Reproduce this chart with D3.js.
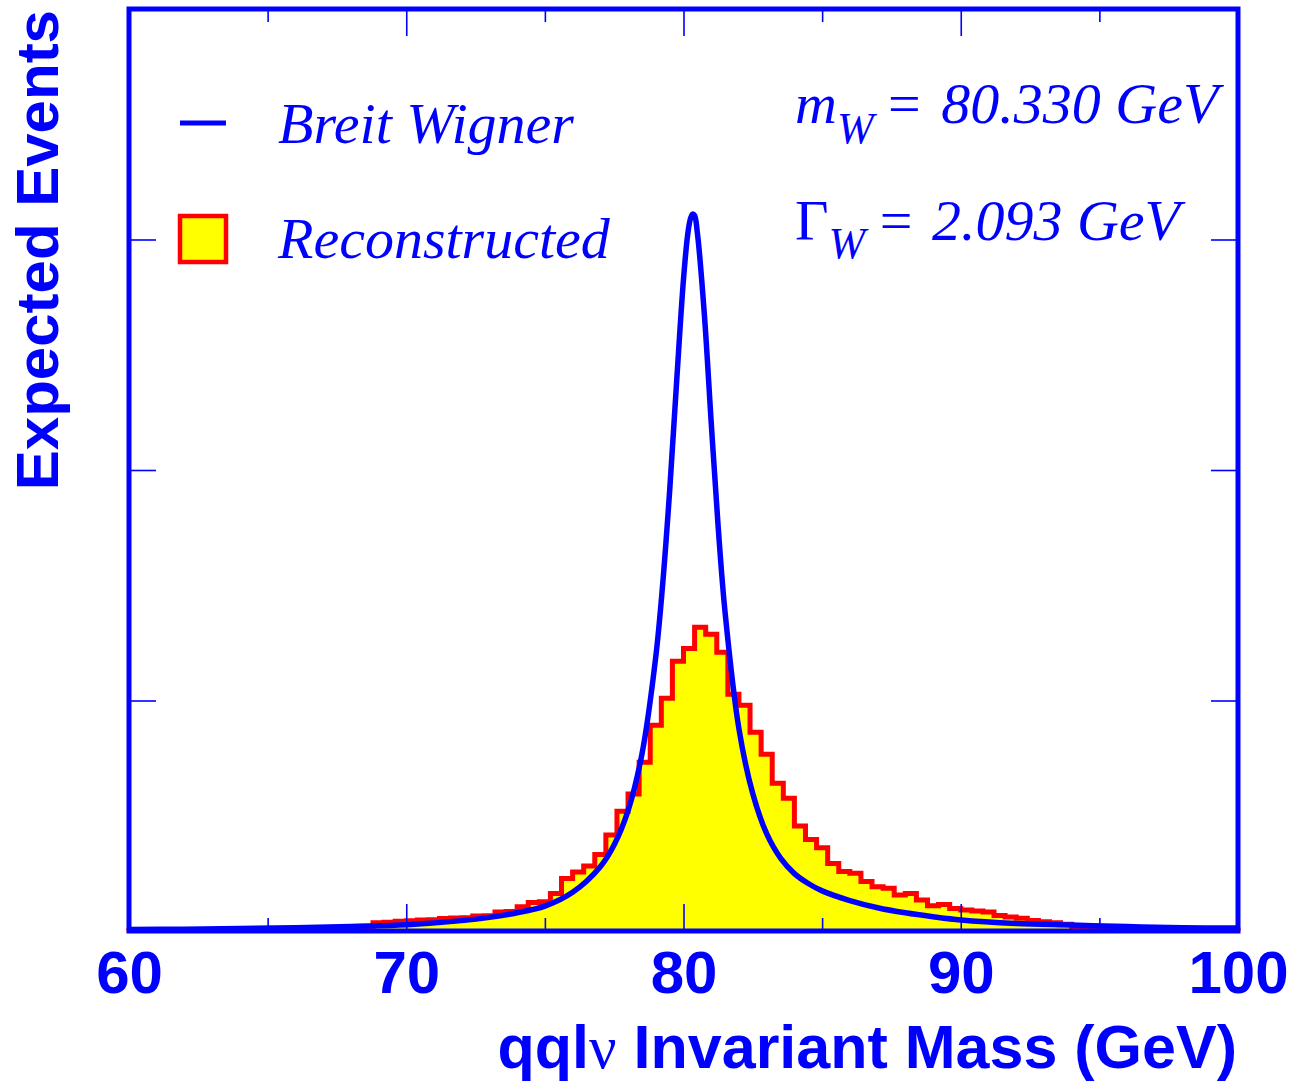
<!DOCTYPE html>
<html>
<head>
<meta charset="utf-8">
<script src="https://cdn.jsdelivr.net/npm/d3@7"></script>
<style>
  body { margin: 0; background: #fff; }
</style>
</head>
<body>
<div id="chart"></div>
<script>
// reconstructed histogram: 100 bins of 0.4 GeV from 60 GeV
const binStart = 60;
const binWidth = 0.4;
const recoCounts = [
  0.35,0.35,0.35,0.39,0.39,0.43,0.43,0.43,0.48,0.48,0.52,0.52,0.56,0.61,0.65,0.69,0.74,0.78,0.87,0.95,1.08,1.21,
  3.6,3.8,4.25,4.46,4.77,4.9,5.42,5.63,5.76,6.5,6.63,8.23,8.45,10.53,12.35,12.74,16.25,22.75,25.57,28.17,33.15,
  41.6,52.0,59.4,73.2,89.3,101.0,117.0,122.6,131.8,128.7,120.9,102.7,97.9,86.2,76.7,64.1,57.6,45.5,39.7,36.1,
  29.3,25.8,25.1,21.5,19.2,18.5,15.6,16.25,13.4,11.0,11.5,9.8,9.1,8.7,8.2,6.7,6.1,5.5,4.55,4.0,3.6,2.95,0.87,
  0.43,0.43,0.43,0.43,0.43,0.43,0.43,0.43,0.43,0.43,0.43,0.43,0.43,0.43
];

// Breit Wigner curve
const bwMass = [60,62,64,66,68,70,72,73,74,75,76,77,77.5,78,78.5,79,79.25,79.5,79.75,80,80.15,80.25,80.33,80.4,80.5,80.75,81,81.25,81.5,82,82.5,83,83.5,84,84.5,85,86,87,88,89,90,92,94,96,98,100];
const bwEvents = [0.6,0.8,1.1,1.4,2.0,2.7,4.5,5.9,7.9,10.8,16.8,27.9,37.4,52.2,76.7,119,150.6,190.9,237.9,282.8,302,309,311,310.4,302.9,267.9,220.5,175.4,138.2,87.7,59.5,42.2,31.6,24.9,20.6,17.4,13.2,10.1,7.9,6.2,4.8,3.3,2.6,1.9,1.4,1.3];

const xMajor = [60,70,80,90,100];
const xMinor = [65,75,85,95];
const yMajor = [100,200,300,400];

const blue = "#0000ff", red = "#ff0000", yellow = "#ffff00";
const sans = "'Liberation Sans', Arial, Helvetica, sans-serif";
const serif = "'Liberation Serif', 'Times New Roman', Times, serif";

const W = 1299, H = 1082;
const svg = d3.select("#chart").append("svg")
    .attr("width", W).attr("height", H)
    .style("background", "#fff");

const x = d3.scaleLinear([60,100],[129,1238]);
const y = d3.scaleLinear([0,400],[931,9]);

// histogram
let pts = [{m: binStart, v: 0}];
recoCounts.forEach((c,i) => pts.push({m: binStart + i*binWidth, v: c}));
pts.push({m: binStart + recoCounts.length*binWidth, v: recoCounts[recoCounts.length-1]});
pts.push({m: binStart + recoCounts.length*binWidth, v: 0});

const area = d3.area().curve(d3.curveStepAfter)
    .x(d => x(d.m)).y0(y(0)).y1(d => y(d.v));
const step = d3.line().curve(d3.curveStepAfter)
    .x(d => x(d.m)).y(d => y(d.v));

svg.append("path").datum(pts)
    .attr("d", area)
    .attr("fill", yellow);

svg.append("path").datum(pts)
    .attr("d", step)
    .attr("fill", "none")
    .attr("stroke", red)
    .attr("stroke-width", 5);

// curve
const bw = bwMass.map((m,i) => ({m: m, v: bwEvents[i]}));
svg.append("path").datum(bw)
    .attr("d", d3.line().curve(d3.curveCatmullRom.alpha(0.5)).x(d => x(d.m)).y(d => y(d.v)))
    .attr("fill", "none")
    .attr("stroke", blue)
    .attr("stroke-width", 5.5);

// ticks
function styleAxis(g) {
    g.select(".domain").remove();
    g.selectAll(".tick line").attr("stroke", blue).attr("stroke-width", 1.6);
    g.selectAll(".tick text")
        .attr("fill", blue)
        .attr("font-family", sans)
        .attr("font-weight", "bold")
        .attr("font-size", 60);
}

svg.append("g").attr("transform", `translate(0,${y(0)})`)
    .call(d3.axisBottom(x).tickValues(xMajor).tickSizeInner(-27).tickSizeOuter(0).tickPadding(19).tickFormat(d3.format("d")))
    .call(styleAxis);
svg.append("g").attr("transform", `translate(0,${y(0)})`)
    .call(d3.axisBottom(x).tickValues(xMinor).tickSizeInner(-13).tickSizeOuter(0).tickFormat(""))
    .call(styleAxis);
svg.append("g").attr("transform", `translate(0,${y(400)})`)
    .call(d3.axisTop(x).tickValues(xMajor).tickSizeInner(-27).tickSizeOuter(0).tickFormat(""))
    .call(styleAxis);
svg.append("g").attr("transform", `translate(0,${y(400)})`)
    .call(d3.axisTop(x).tickValues(xMinor).tickSizeInner(-13).tickSizeOuter(0).tickFormat(""))
    .call(styleAxis);
svg.append("g").attr("transform", `translate(${x(60)},0)`)
    .call(d3.axisLeft(y).tickValues(yMajor).tickSizeInner(-27).tickSizeOuter(0).tickFormat(""))
    .call(styleAxis);
svg.append("g").attr("transform", `translate(${x(100)},0)`)
    .call(d3.axisRight(y).tickValues(yMajor).tickSizeInner(-27).tickSizeOuter(0).tickFormat(""))
    .call(styleAxis);

// frame
svg.append("rect")
    .attr("x", x(60)).attr("y", y(400))
    .attr("width", x(100) - x(60)).attr("height", y(0) - y(400))
    .attr("fill", "none")
    .attr("stroke", blue)
    .attr("stroke-width", 5);

// axis titles
svg.append("text")
    .attr("transform", "translate(58,10) rotate(-90)")
    .attr("text-anchor", "end")
    .attr("font-family", sans).attr("font-weight", "bold").attr("font-size", 60)
    .attr("fill", blue)
    .text("Expected Events");

const xt = svg.append("text")
    .attr("x", 1237).attr("y", 1068)
    .attr("text-anchor", "end")
    .attr("font-family", sans).attr("font-weight", "bold").attr("font-size", 61)
    .attr("fill", blue);
xt.append("tspan").text("qql");
xt.append("tspan").attr("font-family", serif).attr("font-weight", "normal").text("ν");
xt.append("tspan").text(" Invariant Mass (GeV)");

// legend
svg.append("line")
    .attr("x1", 180).attr("x2", 226).attr("y1", 123).attr("y2", 123)
    .attr("stroke", blue).attr("stroke-width", 5);
svg.append("rect")
    .attr("x", 180).attr("y", 216).attr("width", 46).attr("height", 46)
    .attr("fill", yellow).attr("stroke", red).attr("stroke-width", 4.5);

const legText = [["Breit Wigner", 143], ["Reconstructed", 258]];
svg.selectAll(".leg")
    .data(legText)
    .join("text")
    .attr("class", "leg")
    .attr("x", 278).attr("y", d => d[1])
    .attr("font-family", serif).attr("font-style", "italic").attr("font-size", 58)
    .attr("fill", blue)
    .text(d => d[0]);

// fit parameters
const mt = svg.append("text")
    .attr("x", 795).attr("y", 123)
    .attr("font-family", serif).attr("font-style", "italic").attr("font-size", 58)
    .attr("fill", blue);
mt.append("tspan").text("m");
mt.append("tspan").attr("dy", 20).attr("font-size", 44).text("W");
mt.append("tspan").attr("dy", -20).attr("font-style", "normal").text(" = ");
mt.append("tspan").attr("dx", 6).text("80.330 GeV");

const gt = svg.append("text")
    .attr("x", 795).attr("y", 240)
    .attr("font-family", serif).attr("font-style", "italic").attr("font-size", 58)
    .attr("fill", blue);
gt.append("tspan").attr("font-style", "normal").text("Γ");
gt.append("tspan").attr("dy", 18).attr("font-size", 44).text("W");
gt.append("tspan").attr("dy", -18).attr("font-style", "normal").text(" = ");
gt.append("tspan").attr("dx", 5).text("2.093 GeV");
</script>
</body>
</html>
